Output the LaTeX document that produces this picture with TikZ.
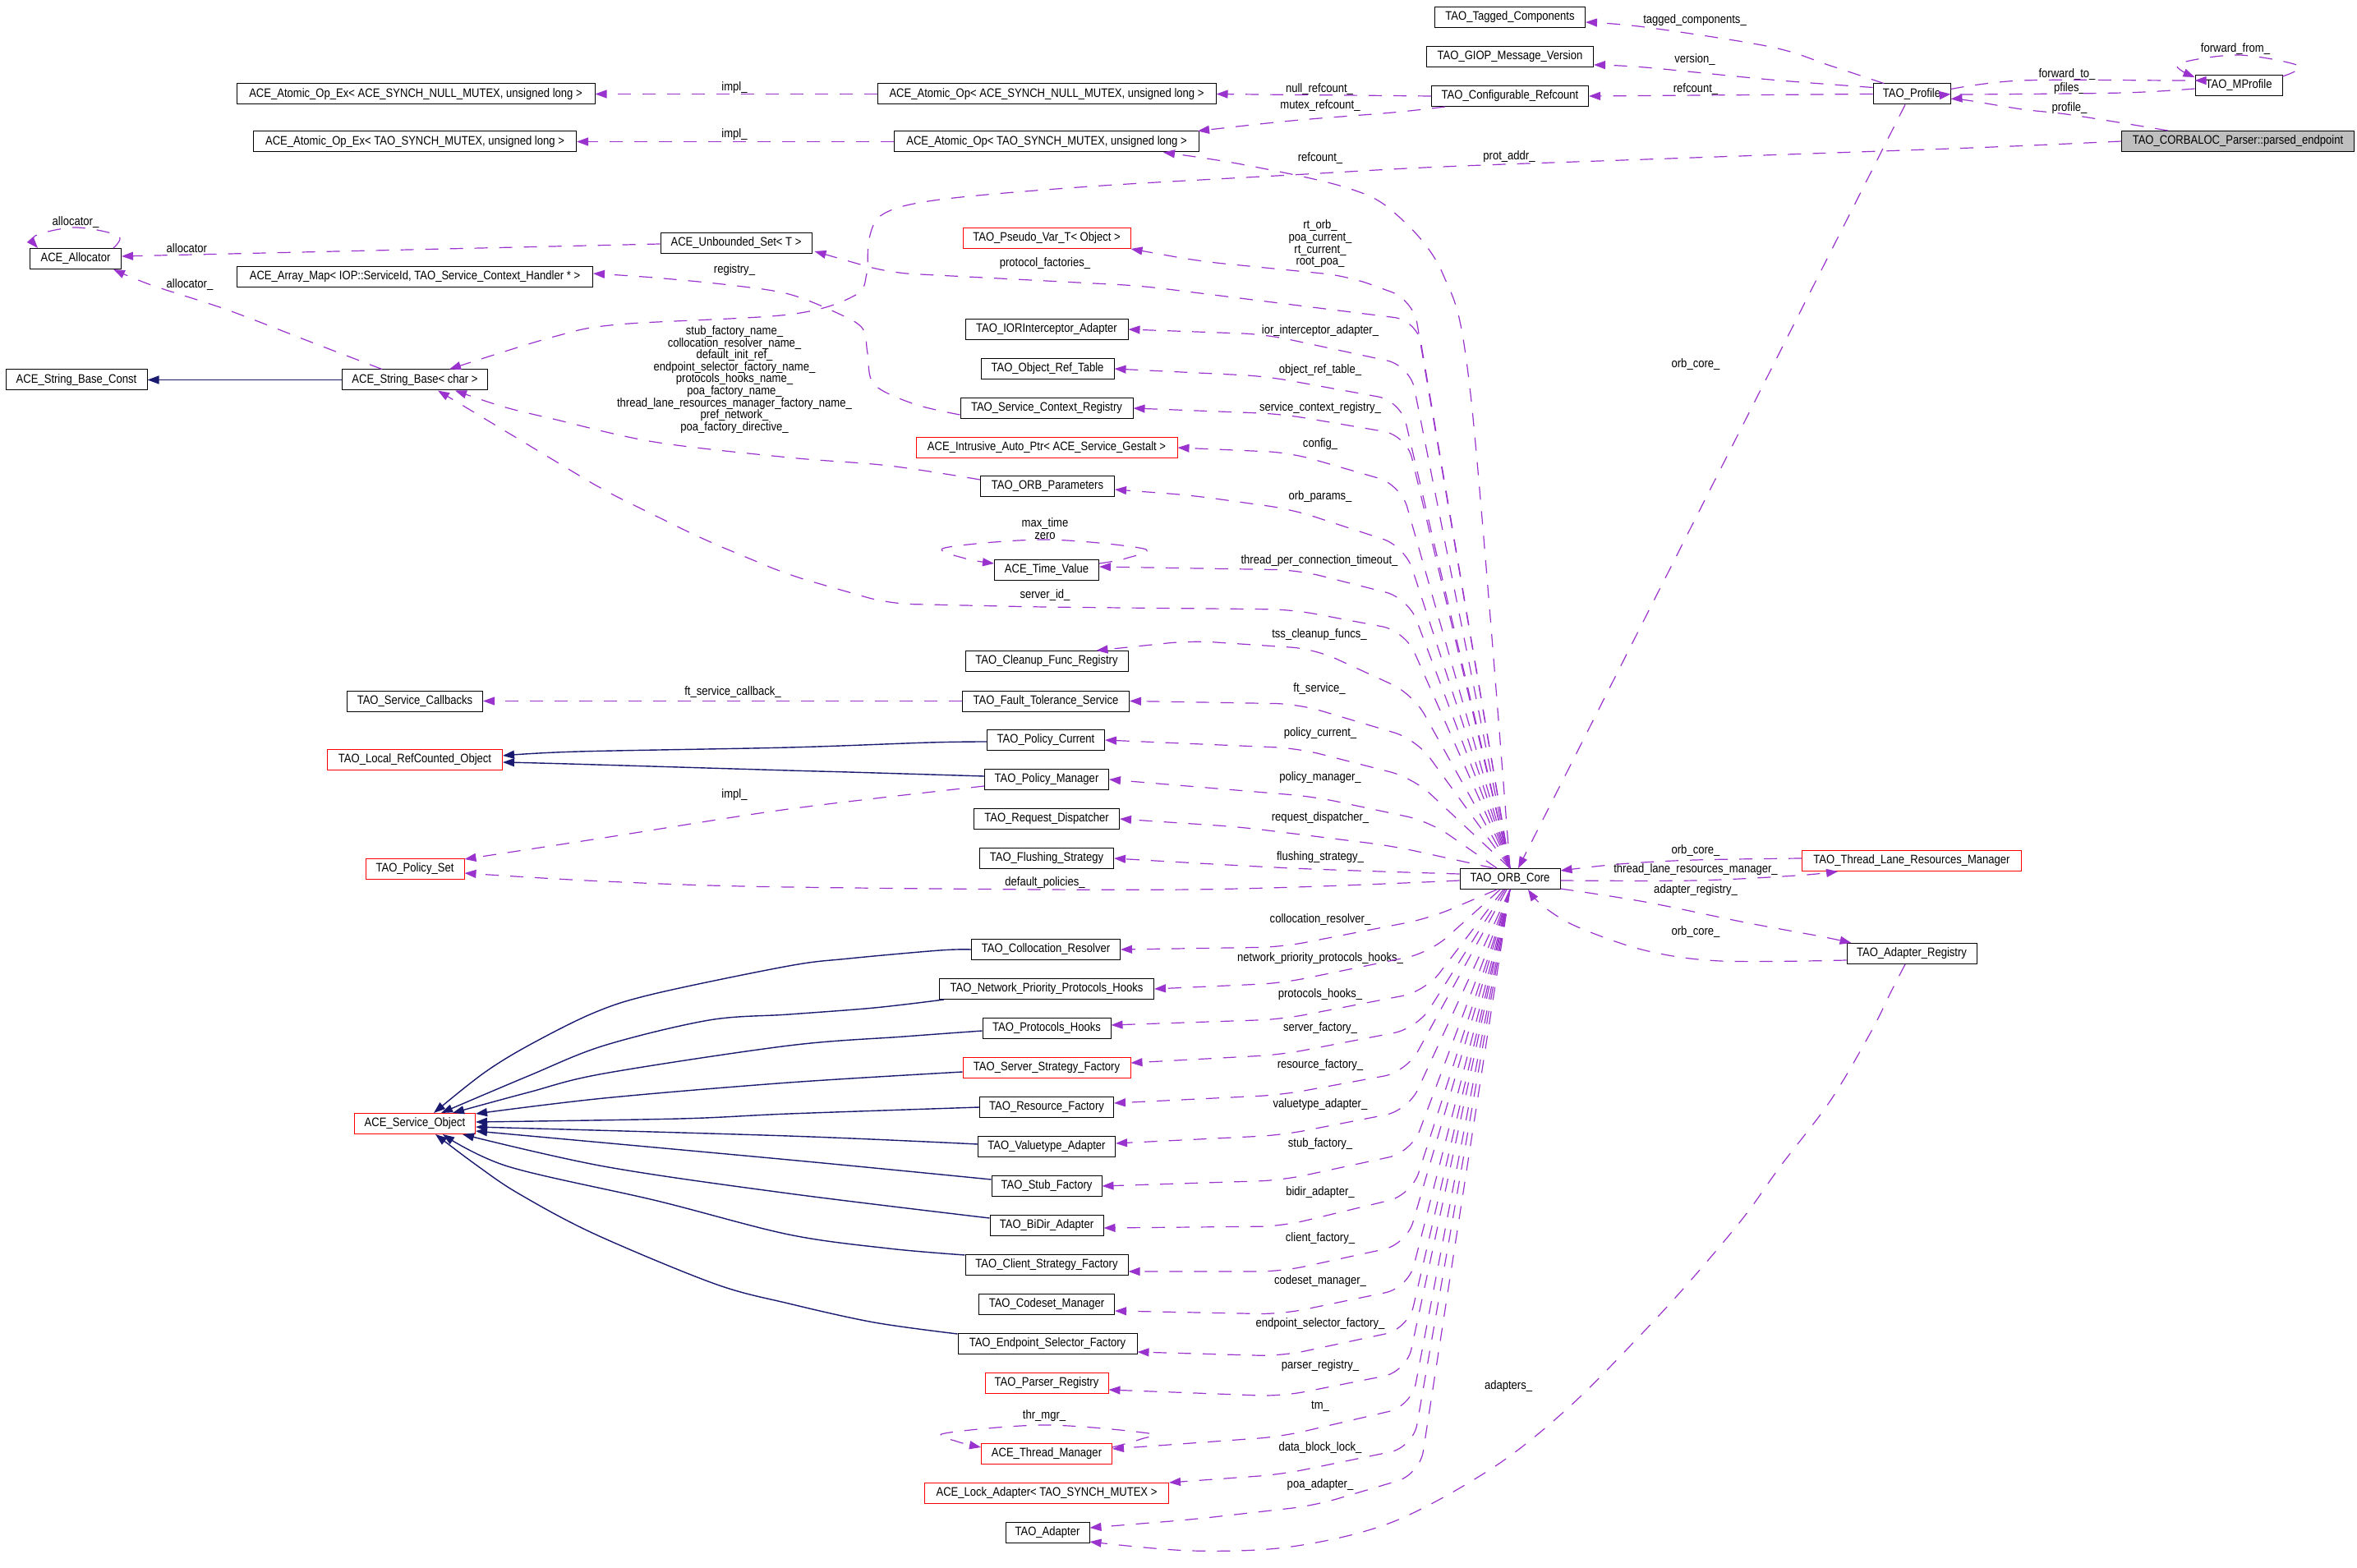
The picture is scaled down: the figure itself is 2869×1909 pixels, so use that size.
\documentclass[tikz,border=0pt]{standalone}
\usepackage{fontspec}
\setmainfont{Liberation Sans}[FakeStretch=0.87]
\usetikzlibrary{arrows.meta}
\definecolor{depline}{HTML}{9A32CD}
\definecolor{inhline}{HTML}{191970}
\newcommand\dxfont{\fontsize{7.5}{7.3}\selectfont}

\begin{document}
\begin{tikzpicture}[x=0.5pt,y=-0.5pt,
  cls/.style={draw=black,line width=0.5pt,inner sep=0pt,minimum height=12.5pt,font=\dxfont},
  redcls/.style={cls,draw=red},
  lbl/.style={inner sep=0pt,align=center,font=\dxfont},
  dep/.style={draw=depline,line width=0.6pt,dash pattern=on 8pt off 7pt,-{Triangle[length=7pt,width=5pt]}},
  fan/.style={dep,rounded corners=14pt},
  inh/.style={draw=inhline,line width=0.7pt,-{Triangle[length=7pt,width=5pt]}},
  sm/.style={smooth,tension=0.55}]

  \useasboundingbox (0,0) rectangle (2869,1909);

  \node[cls,minimum width=218pt] (aoexnull) at (506,114.5) {ACE\_Atomic\_Op\_Ex< ACE\_SYNCH\_NULL\_MUTEX, unsigned long >};
  \node[cls,minimum width=196.5pt] (aoextao) at (505,172.5) {ACE\_Atomic\_Op\_Ex< TAO\_SYNCH\_MUTEX, unsigned long >};
  \node[cls,minimum width=55.5pt] (alloc) at (92,315) {ACE\_Allocator};
  \node[cls,minimum width=92pt] (uset) at (896,296) {ACE\_Unbounded\_Set< T >};
  \node[cls,minimum width=216.5pt] (amap) at (505,337) {ACE\_Array\_Map< IOP::ServiceId, TAO\_Service\_Context\_Handler * >};
  \node[cls,minimum width=86pt] (sbconst) at (93,462.5) {ACE\_String\_Base\_Const};
  \node[cls,minimum width=88.5pt] (sbase) at (505,462.5) {ACE\_String\_Base< char >};
  \node[cls,minimum width=91.5pt] (tagged) at (1838,21) {TAO\_Tagged\_Components};
  \node[cls,minimum width=101.5pt] (giop) at (1838,69) {TAO\_GIOP\_Message\_Version};
  \node[cls,minimum width=206pt] (aonull) at (1274,114.5) {ACE\_Atomic\_Op< ACE\_SYNCH\_NULL\_MUTEX, unsigned long >};
  \node[cls,minimum width=95.5pt] (cref) at (1838,117) {TAO\_Configurable\_Refcount};
  \node[cls,minimum width=185.5pt] (aotao) at (1274,172.5) {ACE\_Atomic\_Op< TAO\_SYNCH\_MUTEX, unsigned long >};
  \node[redcls,minimum width=102pt] (pseudo) at (1274,290) {TAO\_Pseudo\_Var\_T< Object >};
  \node[cls,minimum width=99pt] (iorint) at (1274,401) {TAO\_IORInterceptor\_Adapter};
  \node[cls,minimum width=81pt] (oreft) at (1275,449) {TAO\_Object\_Ref\_Table};
  \node[cls,minimum width=105pt] (scr) at (1274,497) {TAO\_Service\_Context\_Registry};
  \node[redcls,minimum width=159pt] (intr) at (1274,545) {ACE\_Intrusive\_Auto\_Ptr< ACE\_Service\_Gestalt >};
  \node[cls,minimum width=81.5pt] (orbp) at (1275,592) {TAO\_ORB\_Parameters};
  \node[cls,minimum width=63.5pt] (tval) at (1274,694) {ACE\_Time\_Value};
  \node[cls,minimum width=99pt] (cleanup) at (1274,805) {TAO\_Cleanup\_Func\_Registry};
  \node[cls,minimum width=101.5pt] (fts) at (1273,853.5) {TAO\_Fault\_Tolerance\_Service};
  \node[cls,minimum width=71.5pt] (pcur) at (1273,901) {TAO\_Policy\_Current};
  \node[cls,minimum width=82.5pt] (scb) at (505,853.5) {TAO\_Service\_Callbacks};
  \node[redcls,minimum width=106.5pt] (lrco) at (505,925) {TAO\_Local\_RefCounted\_Object};
  \node[cls,minimum width=75.5pt] (pman) at (1274,949) {TAO\_Policy\_Manager};
  \node[cls,minimum width=88.5pt] (rdisp) at (1274,997) {TAO\_Request\_Dispatcher};
  \node[cls,minimum width=81.5pt] (flush) at (1274,1045) {TAO\_Flushing\_Strategy};
  \node[redcls,minimum width=60pt] (pset) at (505,1058) {TAO\_Policy\_Set};
  \node[cls,minimum width=61pt] (orb) at (1838,1070) {TAO\_ORB\_Core};
  \node[cls,minimum width=90.5pt] (colres) at (1273,1156) {TAO\_Collocation\_Resolver};
  \node[cls,minimum width=130.5pt] (nphooks) at (1274,1204) {TAO\_Network\_Priority\_Protocols\_Hooks};
  \node[cls,minimum width=78pt] (phooks) at (1274,1252) {TAO\_Protocols\_Hooks};
  \node[redcls,minimum width=102pt] (ssf) at (1274,1300) {TAO\_Server\_Strategy\_Factory};
  \node[cls,minimum width=81.5pt] (resf) at (1274,1348) {TAO\_Resource\_Factory};
  \node[cls,minimum width=83.5pt] (vta) at (1274,1396) {TAO\_Valuetype\_Adapter};
  \node[redcls,minimum width=73.5pt] (sobj) at (505,1368) {ACE\_Service\_Object};
  \node[cls,minimum width=67pt] (stubf) at (1274,1444) {TAO\_Stub\_Factory};
  \node[cls,minimum width=69pt] (bidir) at (1274,1492) {TAO\_BiDir\_Adapter};
  \node[cls,minimum width=99pt] (csf) at (1274,1540) {TAO\_Client\_Strategy\_Factory};
  \node[cls,minimum width=82.5pt] (codeset) at (1274,1588) {TAO\_Codeset\_Manager};
  \node[cls,minimum width=109pt] (esf) at (1275,1636) {TAO\_Endpoint\_Selector\_Factory};
  \node[redcls,minimum width=75pt] (parser) at (1274,1684) {TAO\_Parser\_Registry};
  \node[redcls,minimum width=79.5pt] (thrmgr) at (1274,1770) {ACE\_Thread\_Manager};
  \node[redcls,minimum width=148.5pt] (lockad) at (1274,1818) {ACE\_Lock\_Adapter< TAO\_SYNCH\_MUTEX >};
  \node[cls,minimum width=51pt] (adapter) at (1275,1866) {TAO\_Adapter};
  \node[redcls,minimum width=133.5pt] (tlrm) at (2327,1048) {TAO\_Thread\_Lane\_Resources\_Manager};
  \node[cls,minimum width=79pt] (areg) at (2327,1161) {TAO\_Adapter\_Registry};
  \node[cls,minimum width=47pt] (profile) at (2327,114.5) {TAO\_Profile};
  \node[cls,minimum width=53pt] (mprof) at (2725,104) {TAO\_MProfile};
  \node[cls,fill=black!25,minimum width=141.5pt] (cbl) at (2724,172) {TAO\_CORBALOC\_Parser::parsed\_endpoint};

  \node[lbl] (l-impl1) at (894,107) {impl\_};
  \node[lbl] (l-impl2) at (894,164) {impl\_};
  \node[lbl] (l-nullrc) at (1606,109) {null\_refcount\_};
  \node[lbl] (l-mutexrc) at (1607,129) {mutex\_refcount\_};
  \node[lbl] (l-refcount1) at (1607,193) {refcount\_};
  \node[lbl] (l-protaddr) at (1837,191) {prot\_addr\_};
  \node[lbl] (l-tagged) at (2063,25) {tagged\_components\_};
  \node[lbl] (l-version) at (2063,73) {version\_};
  \node[lbl] (l-refcount2) at (2064,109) {refcount\_};
  \node[lbl] (l-fwdto) at (2516,91) {forward\_to\_};
  \node[lbl] (l-pfiles) at (2519,108) {pfiles\_};
  \node[lbl] (l-fwdfrom) at (2721,60) {forward\_from\_};
  \node[lbl] (l-profile) at (2519,132) {profile\_};
  \node[lbl] (l-orbcore1) at (2064,444) {orb\_core\_};
  \node[lbl] (l-alloc1) at (92,271) {allocator\_};
  \node[lbl] (l-alloc2) at (231,304) {allocator\_};
  \node[lbl] (l-alloc3) at (231,347) {allocator\_};
  \node[lbl] (l-registry) at (894,329) {registry\_};
  \node[lbl] (l-protfact) at (1272,321) {protocol\_factories\_};
  \node[lbl] (l-rtorb) at (1607,297) {rt\_orb\_\\poa\_current\_\\rt\_current\_\\root\_poa\_};
  \node[lbl] (l-ior) at (1607,403) {ior\_interceptor\_adapter\_};
  \node[lbl] (l-oref) at (1607,451) {object\_ref\_table\_};
  \node[lbl] (l-scr) at (1607,497) {service\_context\_registry\_};
  \node[lbl] (l-config) at (1607,541) {config\_};
  \node[lbl] (l-orbp) at (1607,605) {orb\_params\_};
  \node[lbl] (l-names) at (894,462) {stub\_factory\_name\_\\collocation\_resolver\_name\_\\default\_init\_ref\_\\endpoint\_selector\_factory\_name\_\\protocols\_hooks\_name\_\\poa\_factory\_name\_\\thread\_lane\_resources\_manager\_factory\_name\_\\pref\_network\_\\poa\_factory\_directive\_};
  \node[lbl] (l-maxtime) at (1272,643.5) {max\_time\\zero};
  \node[lbl] (l-tpct) at (1606,683) {thread\_per\_connection\_timeout\_};
  \node[lbl] (l-serverid) at (1272,725) {server\_id\_};
  \node[lbl] (l-tss) at (1606,773) {tss\_cleanup\_funcs\_};
  \node[lbl] (l-ftservice) at (1606,839) {ft\_service\_};
  \node[lbl] (l-ftcb) at (892,843) {ft\_service\_callback\_};
  \node[lbl] (l-pcur) at (1607,893) {policy\_current\_};
  \node[lbl] (l-pman) at (1607,947) {policy\_manager\_};
  \node[lbl] (l-impl3) at (894,968) {impl\_};
  \node[lbl] (l-rdisp) at (1607,996) {request\_dispatcher\_};
  \node[lbl] (l-flush) at (1607,1044) {flushing\_strategy\_};
  \node[lbl] (l-defpol) at (1272,1075) {default\_policies\_};
  \node[lbl] (l-colres) at (1607,1120) {collocation\_resolver\_};
  \node[lbl] (l-nphooks) at (1607,1167) {network\_priority\_protocols\_hooks\_};
  \node[lbl] (l-phooks) at (1607,1211) {protocols\_hooks\_};
  \node[lbl] (l-ssf) at (1607,1252) {server\_factory\_};
  \node[lbl] (l-resf) at (1607,1297) {resource\_factory\_};
  \node[lbl] (l-vta) at (1607,1345) {valuetype\_adapter\_};
  \node[lbl] (l-stubf) at (1607,1393) {stub\_factory\_};
  \node[lbl] (l-bidir) at (1607,1452) {bidir\_adapter\_};
  \node[lbl] (l-csf) at (1607,1508) {client\_factory\_};
  \node[lbl] (l-codeset) at (1607,1560) {codeset\_manager\_};
  \node[lbl] (l-esf) at (1607,1612) {endpoint\_selector\_factory\_};
  \node[lbl] (l-parser) at (1607,1663) {parser\_registry\_};
  \node[lbl] (l-tm) at (1607,1712) {tm\_};
  \node[lbl] (l-thrmgr) at (1271,1724) {thr\_mgr\_};
  \node[lbl] (l-dblock) at (1607,1763) {data\_block\_lock\_};
  \node[lbl] (l-poaad) at (1607,1808) {poa\_adapter\_};
  \node[lbl] (l-adapters) at (1836,1688) {adapters\_};
  \node[lbl] (l-orbcore2) at (2064,1036) {orb\_core\_};
  \node[lbl] (l-tlrm) at (2064,1059) {thread\_lane\_resources\_manager\_};
  \node[lbl] (l-areg) at (2064,1084) {adapter\_registry\_};
  \node[lbl] (l-orbcore3) at (2064,1135) {orb\_core\_};

  \draw[dep] (aonull.west) -- (aoexnull.east);
  \draw[dep] (aotao.west) -- (aoextao.east);
  \draw[dep] (cref.west) -- (aonull.east);
  \draw[dep] plot[sm] coordinates {([xshift=8.5pt]cref.south west) (1695,137) (1572,147) ([xshift=-1pt]aotao.north east)};
  \draw[dep] plot[sm] coordinates {(orb.north) (1790,480) (1756,333) (1695,257) (1634,227) (1511,200) ([xshift=-22pt]aotao.south east)};
  \draw[dep] plot[sm] coordinates {(cbl.west) (2400,180) (2032,193) (1756,203) (1572,213) (1327,227) (1144,243) (1076,260) (1058,290) (1055,333) (1040,360) (960,383) (753,395) (674,410) ([xshift=21pt]sbase.north)};
  \draw[dep] plot[sm] coordinates {([yshift=-4pt]scr.west) (1113,492) (1064,468) (1056,430) (1050,400) (1021,382) (960,358) (888,347) (796,338) ([yshift=2pt]amap.east)};

  \draw[fan] (orb.north) -- (1725,390) -- (1389,348) -- (1082,332) -- ([xshift=1.5pt,yshift=1.5pt]uset.south east);
  \draw[fan] (orb.north) -- (1720,365) -- (1640,336) -- (1460,318) -- (pseudo.south east);
  \draw[fan] (orb.north) -- (1716,445) -- (1540,407) -- (iorint.east);
  \draw[fan] (orb.north) -- (1705,488) -- (1540,458) -- (oreft.east);
  \draw[fan] (orb.north) -- (1712,530) -- (1560,504) -- (scr.east);
  \draw[fan] (orb.north) -- (1705,590) -- (1570,551) -- (intr.east);
  \draw[fan] (orb.north) -- (1710,665) -- (1572,620) -- (1450,603) -- ([yshift=-2pt]orbp.east);
  \draw[fan] (orb.north) -- (1714,728) -- (1580,694) -- ([yshift=2pt]tval.east);
  \draw[fan] (orb.north) -- (1710,768) -- (1572,742) -- (1266,739) -- (1082,735) -- (960,700) -- (857,657) -- (735,597) -- (612,523) -- ([xshift=14pt]sbase.south);
  \draw[fan] (orb.north) -- (1720,845) -- (1600,790) -- (1450,780) -- ([xshift=-19.5pt]cleanup.north east);
  \draw[fan] (orb.north) -- (1724,900) -- (1580,857) -- (fts.east);
  \draw[fan] (orb.north) -- (1720,947) -- (1580,911) -- (pcur.east);
  \draw[fan] ([xshift=-8pt]orb.north) -- (1740,1000) -- (1600,970) -- (pman.east);
  \draw[fan] ([xshift=-10pt]orb.north) -- (1695,1030) -- (1511,1007) -- (rdisp.east);
  \draw[dep] plot[sm] coordinates {([yshift=3pt]orb.west) (1572,1057) (flush.east)};
  \draw[dep] plot[sm] coordinates {([yshift=-1pt]orb.west) (1450,1083) (960,1080) (735,1073) ([yshift=-2.5pt]pset.east)};
  \draw[dep] plot[sm] coordinates {([yshift=-4pt]pman.west) (960,985) (735,1020) ([yshift=6pt]pset.east)};
  \draw[dep] plot[sm] coordinates {([yshift=4pt]orbp.west) (1082,567) (960,557) (796,538) (673,510) (612,495) ([xshift=24.5pt]sbase.south)};
  \draw[dep] plot[sm] coordinates {([yshift=-2.5pt]tval.north east) (1370,680) (1392,668) (1272,657) (1150,667) (1175,680) ([yshift=-2.5pt]tval.north west)};
  \draw[dep] (fts.west) -- (scb.east);

  \draw[fan] ([xshift=-8pt]orb.south) -- (1740,1118) -- (1560,1153) -- (colres.east);
  \draw[fan] ([xshift=-6pt]orb.south) -- (1740,1160) -- (1560,1197) -- (nphooks.east);
  \draw[fan] ([xshift=-4pt]orb.south) -- (1735,1207) -- (1560,1241) -- ([yshift=2pt]phooks.east);
  \draw[fan] ([xshift=-3pt]orb.south) -- (1725,1252) -- (1560,1284) -- ([yshift=3pt]ssf.east);
  \draw[fan] ([xshift=-2pt]orb.south) -- (1712,1305) -- (1560,1333) -- ([yshift=2.5pt]resf.east);
  \draw[fan] (orb.south) -- (1714,1352) -- (1560,1382) -- ([yshift=2pt]vta.east);
  \draw[fan] (orb.south) -- (1718,1403) -- (1560,1437) -- (stubf.east);
  \draw[fan] (orb.south) -- (1718,1455) -- (1560,1493) -- ([yshift=-1.5pt]bidir.east);
  \draw[fan] (orb.south) -- (1712,1515) -- (1560,1548) -- ([yshift=-4pt]csf.east);
  \draw[fan] (orb.south) -- (1714,1568) -- (1560,1600) -- ([yshift=-4pt]codeset.east);
  \draw[fan] (orb.south) -- (1714,1618) -- (1560,1651) -- ([yshift=-5pt]esf.east);
  \draw[fan] (orb.south) -- (1712,1670) -- (1560,1700) -- ([yshift=-4pt]parser.east);
  \draw[fan] (orb.south) -- (1718,1712) -- (1560,1749) -- ([yshift=3pt]thrmgr.east);
  \draw[dep] plot[sm] coordinates {([yshift=-2.5pt]thrmgr.north east) (1389,1752) (1398,1745) (1272,1735) (1150,1745) (1165,1755) ([yshift=-2.5pt]thrmgr.north west)};
  \draw[fan] (orb.south) -- (1720,1762) -- (1560,1795) -- (lockad.north east);
  \draw[fan] (orb.south) -- (1728,1795) -- (1600,1833) -- (1450,1850) -- ([yshift=3pt]adapter.east);
  \draw[dep] plot[sm] coordinates {([xshift=-4pt]areg.south) (2302,1207) (2277,1257) (2228,1340) (2167,1420) (2124,1480) (2063,1553) (2002,1620) (1910,1713) (1817,1787) (1695,1853) (1572,1883) (1450,1888) ([yshift=-5.5pt]adapter.east)};

  \draw[dep] plot[sm] coordinates {([xshift=-17pt]profile.north) (2228,80) (2155,57) (2002,33) ([yshift=-3pt]tagged.east)};
  \draw[dep] plot[sm] coordinates {([yshift=4pt]profile.west) (2155,97) (2002,82) ([yshift=-5pt]giop.east)};
  \draw[dep] (profile.west) -- (cref.east);
  \draw[dep] plot[sm] coordinates {([yshift=3pt]profile.east) (2461,98) (2645,98) ([yshift=3pt]mprof.west)};
  \draw[dep] plot[sm] coordinates {([yshift=-2pt]mprof.west) (2584,113) (2400,115) (profile.east)};
  \draw[dep] plot[sm] coordinates {([yshift=5.5pt]mprof.east) (2798,80) (2724,67) (2651,78) ([yshift=5pt]mprof.west)};
  \draw[dep] plot[sm] coordinates {([xshift=-42.5pt]cbl.north) (2522,140) (2461,133) (2394,122) ([yshift=-3pt]profile.east)};
  \draw[dep] ([xshift=-4pt]profile.south) -- ([xshift=5pt]orb.north);

  \draw[dep] plot[sm] coordinates {([yshift=1.5pt]tlrm.west) (2063,1047) (1971,1052) ([yshift=5pt]orb.east)};
  \draw[dep] plot[sm] coordinates {([yshift=-1pt]orb.east) (2063,1072) (2186,1066) ([xshift=22pt]tlrm.south west)};
  \draw[dep] plot[sm] coordinates {([yshift=-6pt]orb.east) (2002,1098) (2124,1123) (2216,1140) ([xshift=3pt]areg.north west)};
  \draw[dep] plot[sm] coordinates {([yshift=-4pt]areg.west) (2094,1170) (2002,1157) (1919,1128) (1878,1103) ([xshift=11pt]orb.south)};

  \draw[dep] plot[sm] coordinates {([xshift=-5pt]alloc.north east) (144,287) (92,277) (43,287) ([xshift=5pt]alloc.north west)};
  \draw[dep] ([yshift=-0.5pt]uset.west) -- ([yshift=1.5pt]alloc.east);
  \draw[dep] plot[sm] coordinates {([xshift=-20pt]sbase.north) (380,417) (276,377) (184,347) ([xshift=-5pt]alloc.south east)};

  \draw[inh] (sbase.west) -- (sbconst.east);
  \draw[inh] plot[sm] coordinates {([yshift=-1pt]pcur.west) (1131,904) (960,910) (704,915) ([yshift=2.5pt]lrco.east)};
  \draw[inh] plot[sm] coordinates {([yshift=2pt]pman.west) (1033,940) (960,938) (692,930) ([yshift=-1.5pt]lrco.east)};
  \draw[inh] plot[sm] coordinates {(colres.west) (1144,1157) (1033,1167) (960,1176) (796,1210) (723,1233) (643,1273) (588,1307) ([xshift=11.5pt]sobj.north)};
  \draw[inh] plot[sm] coordinates {([xshift=3pt]nphooks.south west) (1064,1227) (960,1235) (863,1242) (735,1273) (643,1310) ([xshift=16pt]sobj.north)};
  \draw[inh] plot[sm] coordinates {([yshift=-1.5pt]phooks.west) (1100,1262) (960,1273) (735,1307) (643,1330) ([xshift=23pt]sobj.north)};
  \draw[inh] plot[sm] coordinates {([yshift=-2.5pt]ssf.west) (960,1318) (735,1337) ([yshift=6pt]sobj.east)};
  \draw[inh] plot[sm] coordinates {(resf.west) (960,1356) (827,1362) ([yshift=1pt]sobj.east)};
  \draw[inh] plot[sm] coordinates {([yshift=1.5pt]vta.west) (960,1383) ([yshift=-2pt]sobj.east)};
  \draw[inh] plot[sm] coordinates {([yshift=4pt]stubf.west) (960,1412) ([yshift=-4.5pt]sobj.east)};
  \draw[inh] plot[sm] coordinates {([yshift=4.5pt]bidir.west) (960,1453) (735,1420) ([xshift=29pt]sobj.south)};
  \draw[inh] plot[sm] coordinates {([yshift=6pt]csf.west) (1082,1520) (960,1503) (800,1462) (618,1420) ([xshift=17pt]sobj.south)};
  \draw[inh] plot[sm] coordinates {([yshift=6pt]esf.west) (1064,1610) (960,1587) (870,1563) (723,1502) (631,1453) (582,1420) ([xshift=12.5pt]sobj.south)};
\end{tikzpicture}
\end{document}
